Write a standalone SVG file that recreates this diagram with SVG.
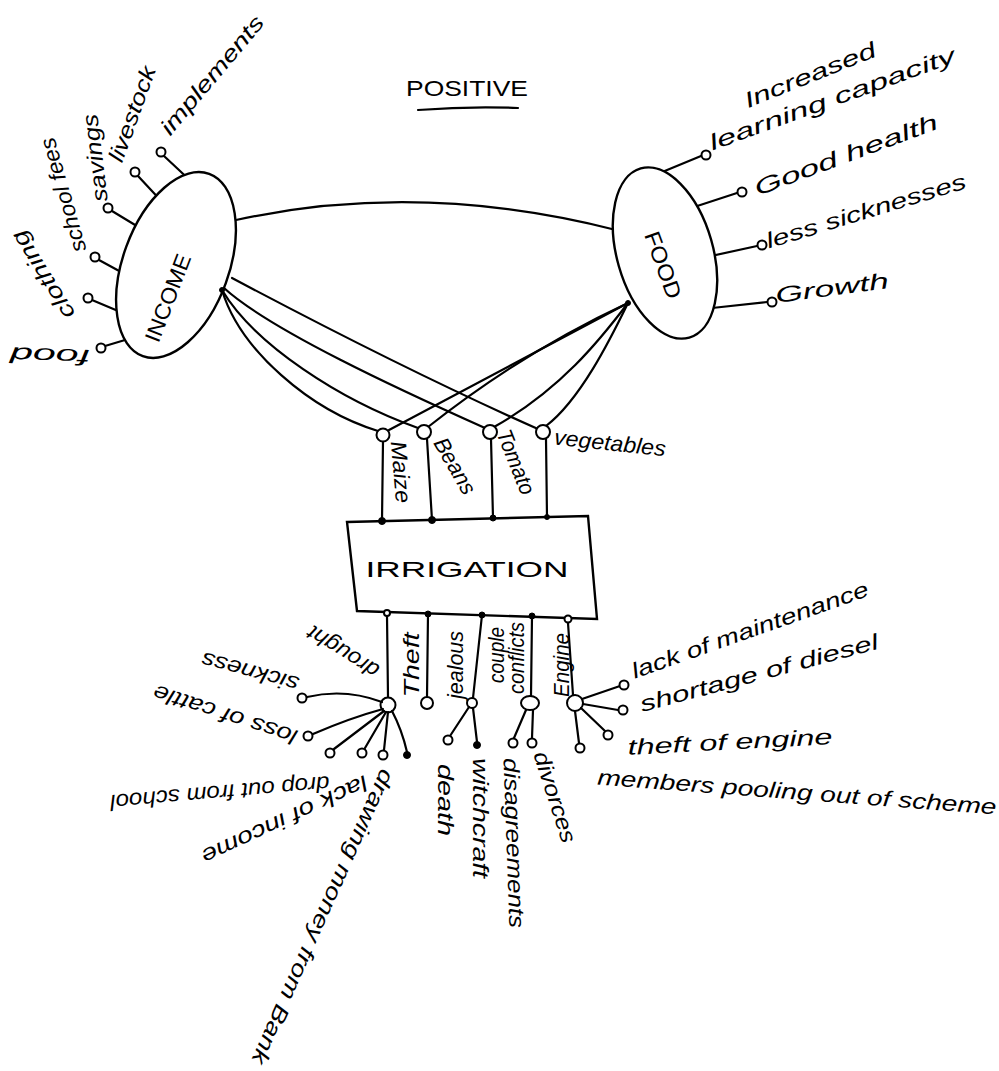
<svg xmlns="http://www.w3.org/2000/svg" width="999" height="1071" viewBox="0 0 999 1071">
<style>
.ln{fill:none;stroke:#000;stroke-width:2.2;stroke-linecap:round;stroke-linejoin:round}
.sh{fill:#fff;stroke:#000;stroke-width:2.4}
.oc{fill:#fff;stroke:#000;stroke-width:2}
.fd{fill:#000;stroke:#000;stroke-width:1}
.t{font-family:"Liberation Sans",Arial,sans-serif;font-style:italic;font-size:22px;fill:#000;text-anchor:middle;dominant-baseline:central}
.p{font-style:normal}
</style>
<rect width="999" height="1071" fill="#fff"/>

<g id="title">
<text class="t p" x="0" y="0" transform="translate(467,88)" textLength="122" lengthAdjust="spacingAndGlyphs">POSITIVE</text>
<path class="ln" d="M418,110 Q470,106 518,108"/>
</g>

<g id="connectors">
<path class="ln" d="M236,220 Q420,180 616,230"/>
<path class="ln" d="M222,290 C240,350 310,410 378,431"/>
<path class="ln" d="M222,290 C255,345 340,400 418,428"/>
<path class="ln" d="M224,288 C270,330 400,390 485,428"/>
<path class="ln" d="M232,278 C330,330 450,390 538,429"/>
<path class="ln" d="M628,303 L389,430"/>
<path class="ln" d="M628,303 C570,330 500,370 428,427"/>
<path class="ln" d="M628,303 C600,340 560,390 494,427"/>
<path class="ln" d="M628,303 C610,340 580,400 546,426"/>
<path class="ln" d="M383,441 L382,521"/>
<path class="ln" d="M427,439 L432,520"/>
<path class="ln" d="M491,439 L493,518"/>
<path class="ln" d="M546,439 L547,517"/>
<path class="ln" d="M387,616 L388,697"/>
<path class="ln" d="M428,614 L427,697"/>
<path class="ln" d="M482,615 L473,698"/>
<path class="ln" d="M532,616 L531,696"/>
<path class="ln" d="M568,623 L573,695"/>
</g>

<g id="income">
<path class="ln" d="M195,185 L164,156"/><circle class="oc" cx="161" cy="152" r="4.5"/>
<path class="ln" d="M165,205 L138,176"/><circle class="oc" cx="135" cy="172" r="4.5"/>
<path class="ln" d="M145,231 L112,211"/><circle class="oc" cx="108" cy="208" r="4.5"/>
<path class="ln" d="M132,278 L99,260"/><circle class="oc" cx="95" cy="257" r="4.5"/>
<path class="ln" d="M130,316 L92,300"/><circle class="oc" cx="88" cy="298" r="4.5"/>
<path class="ln" d="M135,337 L105,346"/><circle class="oc" cx="101" cy="348" r="4.5"/>
<ellipse class="sh" cx="176" cy="265" rx="53" ry="97" transform="rotate(20 176 265)"/>
<text class="t p" x="0" y="0" transform="translate(168,298) rotate(-69)" font-size="24" textLength="92" lengthAdjust="spacingAndGlyphs">INCOME</text>
<circle class="fd" cx="222" cy="290" r="2.5"/>
<text class="t" x="0" y="0" transform="translate(212,75) rotate(-50)" textLength="148" lengthAdjust="spacingAndGlyphs">implements</text>
<text class="t" x="0" y="0" transform="translate(132,114) rotate(-70)" textLength="100" lengthAdjust="spacingAndGlyphs">livestock</text>
<text class="t" x="0" y="0" transform="translate(95,158) rotate(-97)" textLength="88" lengthAdjust="spacingAndGlyphs">savings</text>
<text class="t" x="0" y="0" transform="translate(63,195) rotate(-106)" textLength="118" lengthAdjust="spacingAndGlyphs">school fees</text>
<text class="t" x="0" y="0" transform="translate(43,275) rotate(-122)" textLength="100" lengthAdjust="spacingAndGlyphs">clothing</text>
<text class="t" x="0" y="0" transform="translate(50,356) rotate(182)" textLength="80" lengthAdjust="spacingAndGlyphs">food</text>
</g>

<g id="food">
<path class="ln" d="M655,175 L701,156"/><circle class="oc" cx="706" cy="155" r="4.5"/>
<path class="ln" d="M685,210 L737,193"/><circle class="oc" cx="742" cy="192" r="4.5"/>
<path class="ln" d="M702,258 L757,246"/><circle class="oc" cx="762" cy="245" r="4.5"/>
<path class="ln" d="M712,308 L767,302"/><circle class="oc" cx="772" cy="302" r="4.5"/>
<ellipse class="sh" cx="665" cy="253" rx="48" ry="88" transform="rotate(-16 665 253)"/>
<text class="t p" x="0" y="0" transform="translate(663,265) rotate(70)" font-size="26" textLength="70" lengthAdjust="spacingAndGlyphs">FOOD</text>
<circle class="fd" cx="628" cy="303" r="2.5"/>
<text class="t" x="0" y="0" transform="translate(810,75) rotate(-22)" font-size="24" textLength="140" lengthAdjust="spacingAndGlyphs">Increased</text>
<text class="t" x="0" y="0" transform="translate(832,99) rotate(-20)" font-size="24" textLength="260" lengthAdjust="spacingAndGlyphs">learning capacity</text>
<text class="t" x="0" y="0" transform="translate(846,155) rotate(-20.5)" font-size="24" textLength="194" lengthAdjust="spacingAndGlyphs">Good health</text>
<text class="t" x="0" y="0" transform="translate(866,211) rotate(-17)" font-size="24" textLength="208" lengthAdjust="spacingAndGlyphs">less sicknesses</text>
<text class="t" x="0" y="0" transform="translate(832,288) rotate(-7.5)" font-size="24" textLength="114" lengthAdjust="spacingAndGlyphs">Growth</text>
</g>

<g id="crops">
<circle class="oc" cx="383" cy="435" r="6.5"/>
<circle class="oc" cx="424" cy="432" r="7"/>
<circle class="oc" cx="490" cy="432" r="7"/>
<circle class="oc" cx="543" cy="432" r="7"/>
<text class="t" x="0" y="0" transform="translate(401,472) rotate(85)" font-size="20" textLength="62" lengthAdjust="spacingAndGlyphs">Maize</text>
<text class="t" x="0" y="0" transform="translate(455,466) rotate(60)" font-size="20" textLength="62" lengthAdjust="spacingAndGlyphs">Beans</text>
<text class="t" x="0" y="0" transform="translate(516,462) rotate(68)" font-size="20" textLength="68" lengthAdjust="spacingAndGlyphs">Tomato</text>
<text class="t" x="0" y="0" transform="translate(610,443) rotate(6)" textLength="112" lengthAdjust="spacingAndGlyphs">vegetables</text>
</g>

<g id="irrigation">
<polygon class="sh" points="347,522 588,516 597,619 357,611"/>
<text class="t p" x="0" y="0" transform="translate(467,569)" font-size="36" textLength="203" lengthAdjust="spacingAndGlyphs">IRRIGATION</text>
<circle class="fd" cx="382" cy="521" r="3.5"/>
<circle class="fd" cx="432" cy="520" r="3.5"/>
<circle class="fd" cx="493" cy="518" r="3"/>
<circle class="fd" cx="547" cy="517" r="2.5"/>
<circle class="oc" cx="387" cy="613" r="3"/>
<circle class="fd" cx="428" cy="614" r="3"/>
<circle class="fd" cx="482" cy="615" r="3"/>
<circle class="fd" cx="532" cy="616" r="3"/>
<circle class="oc" cx="568" cy="619" r="3.5"/>
</g>

<g id="drought">
<circle class="oc" cx="388" cy="705" r="7.5"/>
<path class="ln" d="M382,702 Q345,688 307,697"/><circle class="oc" cx="302" cy="698" r="4.5"/>
<path class="ln" d="M383,709 Q350,718 313,734"/><circle class="oc" cx="308" cy="736" r="4.5"/>
<path class="ln" d="M384,711 L334,749"/><circle class="oc" cx="330" cy="753" r="4.5"/>
<path class="ln" d="M386,712 L365,748"/><circle class="oc" cx="362" cy="753" r="4.5"/>
<path class="ln" d="M388,712 L384,750"/><circle class="oc" cx="383" cy="755" r="4.5"/>
<path class="ln" d="M392,711 Q402,730 407,752"/><circle class="fd" cx="407" cy="755" r="3.5"/>
<text class="t" x="0" y="0" transform="translate(343,652) rotate(212)" font-size="20" textLength="80" lengthAdjust="spacingAndGlyphs">drought</text>
<text class="t" x="0" y="0" transform="translate(250,672) rotate(195)" font-size="20" textLength="100" lengthAdjust="spacingAndGlyphs">sickness</text>
<text class="t" x="0" y="0" transform="translate(225,715) rotate(198)" textLength="150" lengthAdjust="spacingAndGlyphs">loss of cattle</text>
<text class="t" x="0" y="0" transform="translate(220,793) rotate(175)" textLength="220" lengthAdjust="spacingAndGlyphs">drop out from school</text>
<text class="t" x="0" y="0" transform="translate(285,820) rotate(155)" textLength="181" lengthAdjust="spacingAndGlyphs">lack of income</text>
<text class="t" x="0" y="0" transform="translate(323,917) rotate(114)" textLength="320" lengthAdjust="spacingAndGlyphs">drawing money from Bank</text>
</g>

<g id="theft">
<circle class="oc" cx="427" cy="703" r="6"/>
<text class="t" x="0" y="0" transform="translate(411,665) rotate(-90)" font-size="20" textLength="65" lengthAdjust="spacingAndGlyphs">Theft</text>
</g>

<g id="jealous">
<circle class="oc" cx="472" cy="703" r="5"/>
<path class="ln" d="M469,707 L450,736"/><circle class="oc" cx="448" cy="740" r="4.5"/>
<path class="ln" d="M473,708 L477,742"/><circle class="fd" cx="477" cy="745" r="3.5"/>
<text class="t" x="0" y="0" transform="translate(455,665) rotate(-90)" font-size="20" textLength="68" lengthAdjust="spacingAndGlyphs">jealous</text>
<text class="t" x="0" y="0" transform="translate(445,800) rotate(90)" font-size="20" textLength="72" lengthAdjust="spacingAndGlyphs">death</text>
<text class="t" x="0" y="0" transform="translate(480,818) rotate(90)" font-size="20" textLength="120" lengthAdjust="spacingAndGlyphs">witchcraft</text>
</g>

<g id="couple-conflicts">
<ellipse class="oc" cx="530" cy="703" rx="9" ry="7"/>
<path class="ln" d="M526,710 L514,738"/><circle class="oc" cx="513" cy="743" r="4.5"/>
<path class="ln" d="M533,710 L532,738"/><circle class="oc" cx="532" cy="743" r="4.5"/>
<text class="t" x="0" y="0" transform="translate(496,655) rotate(-90)" font-size="16" textLength="56" lengthAdjust="spacingAndGlyphs">couple</text>
<text class="t" x="0" y="0" transform="translate(516,658) rotate(-90)" font-size="16" textLength="72" lengthAdjust="spacingAndGlyphs">conflicts</text>
<text class="t" x="0" y="0" transform="translate(514,843) rotate(88)" textLength="170" lengthAdjust="spacingAndGlyphs">disagreements</text>
<text class="t" x="0" y="0" transform="translate(555,797) rotate(72)" textLength="95" lengthAdjust="spacingAndGlyphs">divorces</text>
</g>

<g id="engine">
<circle class="oc" cx="575" cy="703" r="8"/>
<path class="ln" d="M582,699 L620,686"/><circle class="oc" cx="624" cy="685" r="4.5"/>
<path class="ln" d="M583,704 L618,710"/><circle class="oc" cx="623" cy="710" r="4.5"/>
<path class="ln" d="M581,708 L605,731"/><circle class="oc" cx="608" cy="735" r="4.5"/>
<path class="ln" d="M575,711 L579,743"/><circle class="oc" cx="580" cy="748" r="4.5"/>
<text class="t" x="0" y="0" transform="translate(561,665) rotate(-90)" font-size="20" textLength="64" lengthAdjust="spacingAndGlyphs">Engine</text>
<text class="t" x="0" y="0" transform="translate(750,630) rotate(-19.5)" font-size="24" textLength="250" lengthAdjust="spacingAndGlyphs">lack of maintenance</text>
<text class="t" x="0" y="0" transform="translate(759,673) rotate(-15)" font-size="24" textLength="246" lengthAdjust="spacingAndGlyphs">shortage of diesel</text>
<text class="t" x="0" y="0" transform="translate(730,742) rotate(-3)" font-size="24" textLength="205" lengthAdjust="spacingAndGlyphs">theft of engine</text>
<text class="t" x="0" y="0" transform="translate(797,792) rotate(4.3)" font-size="24" textLength="400" lengthAdjust="spacingAndGlyphs">members pooling out of scheme</text>
</g>
</svg>
